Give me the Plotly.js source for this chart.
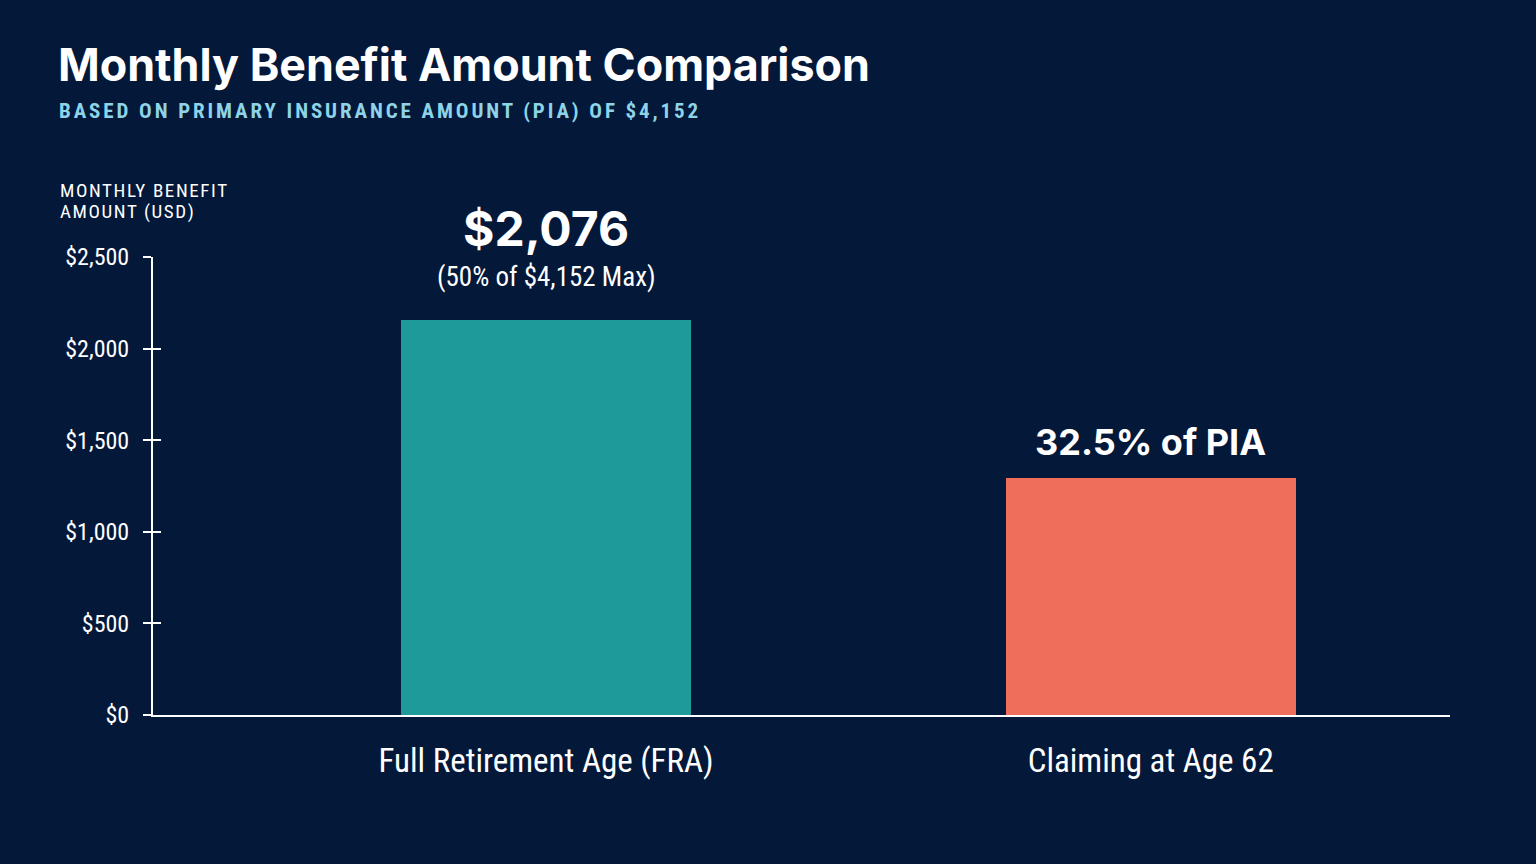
<!DOCTYPE html>
<html>
<head>
<meta charset="utf-8">
<script src="https://cdn.plot.ly/plotly-3.0.1.min.js"></script>
<style>
html,body{margin:0;padding:0;background:#04183a;}
#chart{width:1536px;height:864px;}
g.annotation[data-index="1"] text{letter-spacing:2.9px;}
g.annotation[data-index="2"] text{letter-spacing:1.6px;}
g.annotation[data-index="3"] text{letter-spacing:1.6px;}
</style>
</head>
<body>
<div id="chart"></div>
<script>
const categories = ['Full Retirement Age (FRA)', 'Claiming at Age 62'];
const benefitValues = [2155, 1295];
const barColors = ['#1f9a9b', '#ef6e5b'];
const mainLabels = ['$2,076', '32.5% of PIA'];
const subLabels = ['(50% of $4,152 Max)', ''];
const tickValues = [0, 500, 1000, 1500, 2000, 2500];
const tickLabels = ['$0', '$500', '$1,000', '$1,500', '$2,000', '$2,500'];

const narrow = '"Roboto Condensed", "Liberation Sans Narrow", "DejaVu Sans Condensed", "DejaVu Sans", sans-serif';
const bold = 'Inter, "Noto Sans", "Open Sans", sans-serif';

const trace = {
  type: 'bar',
  x: categories,
  y: benefitValues,
  marker: {color: barColors, line: {width: 0}},
  width: 0.48,
  hoverinfo: 'skip'
};

const annotations = [
  {xref:'paper', yref:'paper', x:-0.075, y:1.0, xanchor:'left', yanchor:'bottom', yshift:163, align:'left',
   text:'<b>Monthly Benefit Amount Comparison</b>', showarrow:false,
   font:{family:bold, size:44.8, color:'#ffffff'}},
  {xref:'paper', yref:'paper', x:-0.074, y:1.0, xanchor:'left', yanchor:'bottom', yshift:132, align:'left',
   text:'<b>BASED ON PRIMARY INSURANCE AMOUNT (PIA) OF $4,152</b>', showarrow:false,
   font:{family:narrow, size:21, color:'#8ed3e6'}},
  {xref:'paper', yref:'paper', x:-0.073, y:1.0, xanchor:'left', yanchor:'bottom', yshift:53, align:'left',
   text:'MONTHLY BENEFIT', showarrow:false,
   font:{family:narrow, size:19, color:'#ffffff'}},
  {xref:'paper', yref:'paper', x:-0.073, y:1.0, xanchor:'left', yanchor:'bottom', yshift:32, align:'left',
   text:'AMOUNT (USD)', showarrow:false,
   font:{family:narrow, size:19, color:'#ffffff'}}
];
categories.forEach((c, i) => {
  if (subLabels[i]) {
    annotations.push({xref:'x', yref:'y', x:c, y:benefitValues[i], yanchor:'bottom', yshift:60,
      text:'<b>' + mainLabels[i] + '</b>', showarrow:false, font:{family:bold, size:48, color:'#ffffff'}});
    annotations.push({xref:'x', yref:'y', x:c, y:benefitValues[i], yanchor:'bottom', yshift:25,
      text:subLabels[i], showarrow:false, font:{family:narrow, size:27, color:'#ffffff'}});
  } else {
    annotations.push({xref:'x', yref:'y', x:c, y:benefitValues[i], yanchor:'bottom', yshift:12,
      text:'<b>' + mainLabels[i] + '</b>', showarrow:false, font:{family:bold, size:36, color:'#ffffff'}});
  }
});

const layout = {
  width:1536, height:864,
  paper_bgcolor:'#04183a', plot_bgcolor:'#04183a',
  margin:{l:153, r:86, t:257, b:149, pad:0},
  showlegend:false,
  bargap:0,
  xaxis:{
    type:'category', range:[-0.65, 1.495],
    showline:true, linecolor:'#ffffff', linewidth:2,
    showgrid:false, zeroline:false, ticks:'',
    tickfont:{family:narrow, size:33, color:'#ffffff'},
    ticklabelstandoff:15, fixedrange:true
  },
  yaxis:{
    range:[0, 2500], tickvals:tickValues, ticktext:tickLabels,
    showline:true, linecolor:'#ffffff', linewidth:2,
    showgrid:false, zeroline:false,
    ticks:'outside', ticklen:8, tickwidth:2, tickcolor:'#ffffff',
    tickfont:{family:narrow, size:24, color:'#ffffff'},
    ticklabelstandoff:9, fixedrange:true
  },
  yaxis2:{
    overlaying:'y', range:[0, 2500], tickvals:tickValues, showticklabels:false,
    showline:false, showgrid:false, zeroline:false,
    ticks:'inside', ticklen:8, tickwidth:2, tickcolor:'#ffffff', side:'left'
  },
  annotations:annotations
};

const helper = {type:'scatter', x:[categories[0]], y:[0], yaxis:'y2', mode:'markers', marker:{opacity:0}, hoverinfo:'skip'};

Plotly.newPlot('chart', [trace, helper], layout, {staticPlot:true, displayModeBar:false});
</script>
</body>
</html>
